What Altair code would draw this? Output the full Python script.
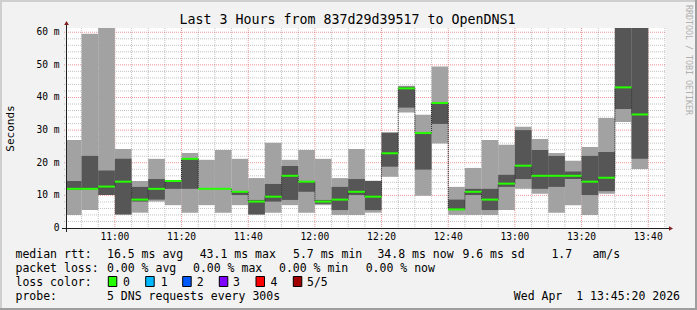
import altair as alt
import pandas as pd

# ---------------- data ----------------
starts = ["10:45", "10:50", "10:55", "11:00", "11:05", "11:10", "11:15", "11:20",
          "11:25", "11:30", "11:35", "11:40", "11:45", "11:50", "11:55", "12:00",
          "12:05", "12:10", "12:15", "12:20", "12:25", "12:30", "12:35", "12:40",
          "12:45", "12:50", "12:55", "13:00", "13:05", "13:10", "13:15", "13:20",
          "13:25", "13:30", "13:35"]
ping1 = [4.0, 5.5, 10.1, 4.0, 4.7, 8.1, 7.0, 4.7, 7.0, 4.7, 7.0, 4.0, 4.7, 7.0, 4.7, 7.0,
         4.0, 4.0, 4.7, 15.7, 35.4, 9.9, 25.9, 4.0, 4.0, 4.0, 5.5, 12.0, 10.5, 4.7, 7.0, 4.0,
         10.5, 32.5, 18.1]
ping2 = [11.7, 11.8, 10.1, 4.2, 8.1, 8.7, 12.0, 12.0, 12.0, 12.0, 10.1, 4.2, 8.1, 8.6, 11.1, 7.4,
         5.5, 10.1, 5.5, 18.8, 36.9, 17.9, 31.9, 5.5, 10.1, 5.5, 12.6, 15.0, 12.0, 12.6, 15.0, 10.1,
         11.3, 36.5, 21.2]
median = [12.0, 12.0, 12.7, 14.2, 8.7, 12.0, 14.4, 21.2, 12.0, 12.0, 11.1, 8.1, 9.6, 16.0, 14.2, 8.1,
          8.7, 11.1, 9.6, 22.9, 42.8, 29.1, 38.3, 5.7, 11.1, 8.7, 13.6, 19.1, 16.0, 16.0, 16.0, 14.2,
          15.4, 43.1, 34.8]
ping4 = [14.4, 22.1, 17.6, 21.2, 12.6, 15.0, 14.6, 21.4, 12.0, 12.0, 11.2, 8.6, 13.5, 19.0, 14.4, 8.6,
         12.6, 15.0, 14.4, 29.2, 43.3, 29.2, 38.4, 8.7, 12.0, 12.0, 16.3, 30.0, 23.9, 22.1, 17.3, 22.1,
         23.3, 63.0, 63.0]
ping5 = [27.0, 59.5, 63.0, 24.2, 14.4, 21.2, 14.7, 23.0, 20.9, 23.9, 21.2, 15.3, 26.1, 20.9, 23.9, 21.2,
         15.3, 24.2, 14.5, 29.3, 43.6, 34.7, 49.5, 12.6, 18.4, 27.0, 25.5, 31.0, 27.3, 23.0, 20.6, 24.8,
         33.7, 66.0, 64.0]
step_minutes = 5

x_ticks = ["11:00", "11:20", "11:40", "12:00", "12:20", "12:40", "13:00", "13:20", "13:40"]
y_ticks = [0, 10, 20, 30, 40, 50, 60]
y_tick_labels = ["0\u00a0\u00a0", "10 m", "20 m", "30 m", "40 m", "50 m", "60 m"]

title_text = "Last 3 Hours from 837d29d39517 to OpenDNS1"
y_title = "Seconds"
watermark = "RRDTOOL / TOBI OETIKER"
row1 = ["median rtt:", "16.5 ms avg", "43.1 ms max", "5.7 ms min", "34.8 ms now", "9.6 ms sd", "1.7", "am/s"]
row2 = ["packet loss:", "0.00 % avg", "0.00 % max", "0.00 % min", "0.00 % now"]
row3_label = "loss color:"
loss_labels = ["0", "1", "2", "3", "4", "5/5"]
loss_colors = ["#26ff00", "#00b8ff", "#0059ff", "#7e00ff", "#ff0000", "#a10000"]
row4 = ["probe:", "5 DNS requests every 300s"]
date_text = "Wed Apr\u00a0 1 13:45:20 2026"

# ---------------- layout / style ----------------
MONO = "DejaVu Sans Mono"
W, H = 600, 200
X0, X1 = 645.333, 825.333   # 10:45:20 .. 13:45:20 in minutes of day
YMAX = 61.3


def tmin(s):
    h, m = s.split(":")
    return int(h) * 60 + int(m)


df = pd.DataFrame({"start": [tmin(s) for s in starts], "p1": ping1, "p2": ping2,
                   "p3": median, "p4": ping4, "p5": ping5})
df["end"] = df["start"] + step_minutes

conn = pd.DataFrame({"b": df["end"].iloc[:-1].values,
                     "m0": df["p3"].iloc[:-1].values,
                     "m1": df["p3"].iloc[1:].values})

xt = [tmin(s) for s in x_ticks]
vmin = [v for v in range(650, 826, 5) if v not in xt]
hmin = [v for v in range(2, 61, 2) if v % 10 != 0]

xs = alt.Scale(domain=[X0, X1], nice=False, zero=False)
ys = alt.Scale(domain=[0, YMAX], nice=False, zero=True)

one = pd.DataFrame({"a": [0]})

grid_v_minor = alt.Chart(pd.DataFrame({"v": vmin})).mark_rule(
    color="#8f8f8f", opacity=0.55, strokeDash=[1, 1], strokeWidth=1
).encode(x=alt.X("v:Q", scale=xs, axis=None), y=alt.value(0), y2=alt.value(H + 2))

grid_v_major = alt.Chart(pd.DataFrame({"v": xt})).mark_rule(
    color="#de5050", opacity=0.6, strokeDash=[1, 1], strokeWidth=1
).encode(x=alt.X("v:Q", scale=xs, axis=None), y=alt.value(0), y2=alt.value(H + 2))

grid_h_minor = alt.Chart(pd.DataFrame({"v": hmin})).mark_rule(
    color="#8f8f8f", opacity=0.55, strokeDash=[1, 1], strokeWidth=1
).encode(y=alt.Y("v:Q", scale=ys, axis=None), x=alt.value(-2), x2=alt.value(W))

grid_h_major = alt.Chart(pd.DataFrame({"v": y_ticks[1:]})).mark_rule(
    color="#de5050", opacity=0.6, strokeDash=[1, 1], strokeWidth=1
).encode(y=alt.Y("v:Q", scale=ys, axis=None), x=alt.value(-2), x2=alt.value(W))

x_labels = alt.Chart(pd.DataFrame({"v": xt, "t": x_ticks})).mark_text(
    font=MONO, fontSize=9.6, color="black", align="center", baseline="alphabetic"
).encode(x=alt.X("v:Q", scale=xs, axis=None), y=alt.value(H + 12), text="t:N")

y_labels = alt.Chart(pd.DataFrame({"v": y_ticks, "t": y_tick_labels})).mark_text(
    font=MONO, fontSize=9.6, color="black", align="right", baseline="middle"
).encode(y=alt.Y("v:Q", scale=ys, axis=None), x=alt.value(-6.5), text="t:N")

base = alt.Chart(df)

light = base.mark_rect(color="#a2a2a2", clip=True).encode(
    x=alt.X("start:Q", scale=xs, axis=None), x2="end:Q",
    y=alt.Y("p1:Q", scale=ys, axis=None), y2="p5:Q",
)

dark = base.mark_rect(color="#565656", clip=True).encode(
    x=alt.X("start:Q", scale=xs, axis=None), x2="end:Q",
    y=alt.Y("p2:Q", scale=ys, axis=None), y2="p4:Q",
)

connectors = alt.Chart(conn).mark_rule(color="#1f1f1f", strokeDash=[1, 1], strokeWidth=1, clip=True).encode(
    x=alt.X("b:Q", scale=xs, axis=None),
    y=alt.Y("m0:Q", scale=ys, axis=None), y2="m1:Q",
)

med = base.mark_rule(color=loss_colors[0], strokeWidth=2, clip=True).encode(
    x=alt.X("start:Q", scale=xs, axis=None), x2="end:Q",
    y=alt.Y("p3:Q", scale=ys, axis=None),
)

y_axis_line = alt.Chart(one).mark_rule(color="#1f1f1f", strokeWidth=1).encode(
    x=alt.value(0.5), y=alt.value(-4), y2=alt.value(H + 4))
x_axis_line = alt.Chart(one).mark_rule(color="#1f1f1f", strokeWidth=1).encode(
    x=alt.value(-4), x2=alt.value(W + 3), y=alt.value(H + 0.5))
arrow_up = alt.Chart(one).mark_point(shape="triangle-up", filled=True, color="#7f1f1f", size=22, opacity=1).encode(
    x=alt.value(0.5), y=alt.value(-5))
arrow_right = alt.Chart(one).mark_point(shape="triangle-right", filled=True, color="#7f1f1f", size=22, opacity=1).encode(
    x=alt.value(W + 5), y=alt.value(H + 0.5))


def txt(s, x, y, size=11.5, align="left", baseline="alphabetic", angle=0, color="black"):
    return alt.Chart(one).mark_text(text=s, align=align, baseline=baseline, font=MONO,
                                    fontSize=size, angle=angle, color=color).encode(
        x=alt.value(x), y=alt.value(y))


texts = []
texts.append(txt(title_text, 281.5, -4, size=13.3, align="center"))
texts.append(txt(y_title, -55, 100.5, size=11, align="center", baseline="middle", angle=270))
texts.append(txt(watermark, 621.7, 32, size=8.3, align="center", baseline="middle", angle=90, color="#b0b0b0"))

r1x = [-50.5, 41, 133.7, 227, 311.4, 396.4, 485.4, 526.4]
for s, x in zip(row1, r1x):
    texts.append(txt(s, x, 230.3))
r2x = [-50.5, 41, 127, 213, 299.7]
for s, x in zip(row2, r2x):
    texts.append(txt(s, x, 244.2))
texts.append(txt(row3_label, -50.5, 258))
box_x = [42.3, 79.7, 116.7, 153.3, 190, 227.3]
lab_x = [57, 94.7, 130.7, 167, 204.4, 241]
legend_boxes = alt.Chart(pd.DataFrame({"c": loss_colors, "bx": box_x})).mark_rect(
    stroke="black", strokeWidth=1).encode(
    x=alt.X("bx:Q", scale=None), x2=alt.X2("bx2:Q"),
    y=alt.value(248.5), y2=alt.value(258.5),
    color=alt.Color("c:N", scale=None)).transform_calculate(bx2="datum.bx + 8.5")
for s, x in zip(loss_labels, lab_x):
    texts.append(txt(s, x, 258))
texts.append(txt(row4[0], -50.5, 272))
texts.append(txt(row4[1], 41, 272))
texts.append(txt(date_text, 614, 272, align="right"))

frame = [
    alt.Chart(one).mark_rule(color="#cfcfcf", strokeWidth=2).encode(
        x=alt.value(-66), x2=alt.value(631), y=alt.value(-27)),
    alt.Chart(one).mark_rule(color="#cfcfcf", strokeWidth=2).encode(
        x=alt.value(-65), y=alt.value(-28), y2=alt.value(282)),
    alt.Chart(one).mark_rule(color="#9e9e9e", strokeWidth=2).encode(
        x=alt.value(-66), x2=alt.value(631), y=alt.value(281)),
    alt.Chart(one).mark_rule(color="#9e9e9e", strokeWidth=2).encode(
        x=alt.value(630), y=alt.value(-28), y2=alt.value(282)),
]

chart = alt.layer(
    grid_v_minor, grid_h_minor, grid_v_major, grid_h_major,
    light, dark, connectors, med,
    y_axis_line, x_axis_line, arrow_up, arrow_right,
    x_labels, y_labels,
    legend_boxes, *texts, *frame,
).properties(
    width=W, height=H,
    padding={"left": 66, "top": 28, "right": 31, "bottom": 82},
    autosize=alt.AutoSizeParams(type="none"),
    background="#f2f2f2",
).configure_view(fill="white", stroke=None)

chart.save("out.html", embed_options={"renderer": "svg", "actions": False})
